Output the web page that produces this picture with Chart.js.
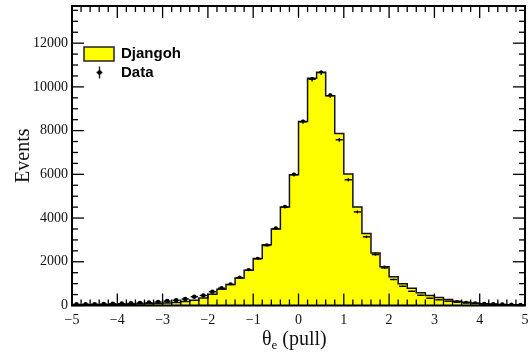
<!DOCTYPE html>
<html>
<head>
<meta charset="utf-8">
<script src="https://cdn.jsdelivr.net/npm/chart.js@4.4.1/dist/chart.umd.min.js"></script>
<style>
  html, body { margin: 0; padding: 0; background: #fff; }
  #wrap { width: 529px; height: 353px; }
</style>
</head>
<body>
<div id="wrap"><canvas id="pull-chart"></canvas></div>
<script>
// histogram binning: 50 bins of 0.2 from -5 to 5
const BIN_LOW = -5;
const BIN_W = 0.2;

// Djangoh MC (yellow histogram), one value per bin
const djangoh = [
  30, 30, 35, 40, 45, 50, 55, 65, 75, 90,
  110, 140, 180, 240, 340, 520, 740, 960, 1260, 1610,
  2150, 2780, 3500, 4500, 5980, 8420, 10400, 10670, 9600, 7870,
  6010, 4500, 3290, 2400, 1770, 1310, 1000, 790, 580, 460,
  370, 270, 200, 150, 110, 85, 65, 50, 40, 30
];

// measured data points, one value per bin
const measured = [
  50, 55, 60, 65, 75, 85, 95, 110, 130, 160,
  200, 240, 300, 400, 460, 630, 790, 960, 1265, 1610,
  2130, 2740, 3515, 4500, 5980, 8400, 10350, 10650, 9600, 7580,
  5750, 4280, 3140, 2330, 1720, 1190, 880, 650, 470, 333,
  260, 196, 150, 110, 85, 65, 50, 40, 32, 25
];

const xTicks = [-5, -4, -3, -2, -1, 0, 1, 2, 3, 4, 5];
const yTicks = [0, 2000, 4000, 6000, 8000, 10000, 12000];
const Y_MAX = 13700;

// build step points (left edges + closing right edge) and data points (bin centres)
const mcSteps = djangoh.map((v, i) => ({ x: BIN_LOW + BIN_W * i, y: v }));
mcSteps.push({ x: BIN_LOW + BIN_W * djangoh.length, y: djangoh[djangoh.length - 1] });
const dataPts = measured.map((v, i) => ({ x: BIN_LOW + BIN_W * (i + 0.5), y: v }));

function line(ctx, x1, y1, x2, y2) {
  ctx.beginPath();
  ctx.moveTo(x1, y1);
  ctx.lineTo(x2, y2);
  ctx.stroke();
}

// drop the label overhang padding so the frame sits where we want it
function noPad(s) {
  s.paddingLeft = 0;
  s.paddingRight = 0;
  s.paddingTop = 0;
  s.paddingBottom = 0;
}

// error bars for the data points
const errorBars = {
  id: 'errorBars',
  afterDatasetsDraw(chart) {
    const { ctx, scales: { x, y } } = chart;
    ctx.save();
    ctx.strokeStyle = '#000';
    ctx.lineWidth = 1.4;
    dataPts.forEach(p => {
      const err = Math.sqrt(p.y);
      const cx = x.getPixelForValue(p.x);
      const cy = y.getPixelForValue(p.y);
      line(ctx, x.getPixelForValue(p.x - BIN_W * 0.4), cy, x.getPixelForValue(p.x + BIN_W * 0.4), cy);
      line(ctx, cx, y.getPixelForValue(p.y - err), cx, y.getPixelForValue(p.y + err));
    });
    ctx.restore();
  }
};

// ROOT style frame with inside ticks, x title with subscript and the legend
const frameAndTicks = {
  id: 'frameAndTicks',
  afterDraw(chart) {
    const { ctx, chartArea: a, scales: { x, y } } = chart;
    ctx.save();
    ctx.strokeStyle = '#000';

    ctx.lineWidth = 1.3;
    for (let i = 0; i <= 50; i++) {
      const px = x.getPixelForValue(BIN_LOW + BIN_W * i);
      const len = i % 5 === 0 ? 12 : 6;
      line(ctx, px, a.bottom, px, a.bottom - len);
      line(ctx, px, a.top, px, a.top + len);
    }
    for (let v = 0; v <= Y_MAX; v += 500) {
      const py = y.getPixelForValue(v);
      const len = v % 2000 === 0 ? 12 : 6;
      line(ctx, a.left, py, a.left + len, py);
      line(ctx, a.right, py, a.right - len, py);
    }

    ctx.lineWidth = 2;
    ctx.strokeRect(a.left, a.top, a.right - a.left, a.bottom - a.top);

    // x axis title: θ_e (pull)
    ctx.fillStyle = '#111';
    ctx.textBaseline = 'alphabetic';
    ctx.textAlign = 'left';
    let tx = 262;
    const base = 344.5;
    ctx.font = '20px "Liberation Serif", "Times New Roman", serif';
    ctx.fillText('\u03B8', tx, base);
    tx += ctx.measureText('\u03B8').width;
    ctx.font = '13px "Liberation Serif", "Times New Roman", serif';
    ctx.fillText('e', tx, base + 4);
    tx += ctx.measureText('e').width;
    ctx.font = '20px "Liberation Serif", "Times New Roman", serif';
    ctx.fillText(' (pull)', tx, base);

    // legend
    ctx.fillStyle = '#ffff00';
    ctx.fillRect(84, 47, 30, 14);
    ctx.lineWidth = 1.5;
    ctx.strokeStyle = '#222';
    ctx.strokeRect(84, 47, 30, 14);
    ctx.fillStyle = '#000';
    ctx.font = 'bold 15px "Liberation Sans", Arial, sans-serif';
    ctx.textBaseline = 'middle';
    ctx.fillText('Djangoh', 121, 54);
    ctx.fillText('Data', 121, 72.5);
    ctx.lineWidth = 1.4;
    line(ctx, 99.5, 66.5, 99.5, 78.5);
    line(ctx, 96.5, 72.5, 102.5, 72.5);
    ctx.beginPath();
    ctx.arc(99.5, 72.5, 2.3, 0, Math.PI * 2);
    ctx.fill();

    ctx.restore();
  }
};

const ctx = document.getElementById('pull-chart').getContext('2d');
new Chart(ctx, {
  type: 'line',
  data: {
    datasets: [
      {
        label: 'Djangoh',
        data: mcSteps,
        stepped: 'before',
        fill: 'origin',
        backgroundColor: '#ffff00',
        borderColor: '#111',
        borderWidth: 1.5,
        pointRadius: 0,
        pointHoverRadius: 0
      },
      {
        label: 'Data',
        data: dataPts,
        showLine: false,
        pointRadius: 2.3,
        pointBackgroundColor: '#000',
        pointBorderColor: '#000',
        pointBorderWidth: 0
      }
    ]
  },
  options: {
    responsive: true,
    maintainAspectRatio: false,
    animation: false,
    events: [],
    layout: { padding: { left: 0, right: 2, top: 6, bottom: 0 } },
    plugins: { legend: { display: false }, tooltip: { enabled: false } },
    scales: {
      x: {
        type: 'linear',
        min: -5,
        max: 5,
        afterFit: s => { s.height = 47.5; noPad(s); },
        afterBuildTicks: s => { s.ticks = xTicks.map(v => ({ value: v })); },
        grid: { display: false, drawTicks: false },
        border: { display: false },
        ticks: {
          autoSkip: false,
          maxRotation: 0,
          padding: 6,
          color: '#111',
          font: { family: '"Liberation Serif", "Times New Roman", serif', size: 14 },
          callback: v => (v < 0 ? '\u2212' + Math.abs(v) : String(v))
        }
      },
      y: {
        type: 'linear',
        min: 0,
        max: Y_MAX,
        afterFit: s => { s.width = 72; noPad(s); },
        afterBuildTicks: s => { s.ticks = yTicks.map(v => ({ value: v })); },
        grid: { display: false, drawTicks: false },
        border: { display: false },
        title: {
          display: true,
          text: 'Events',
          color: '#111',
          padding: { top: 12 },
          font: { family: '"Liberation Serif", "Times New Roman", serif', size: 20 }
        },
        ticks: {
          padding: 4,
          color: '#111',
          font: { family: '"Liberation Serif", "Times New Roman", serif', size: 14 },
          callback: v => String(v)
        }
      }
    }
  },
  plugins: [errorBars, frameAndTicks]
});
</script>
</body>
</html>
